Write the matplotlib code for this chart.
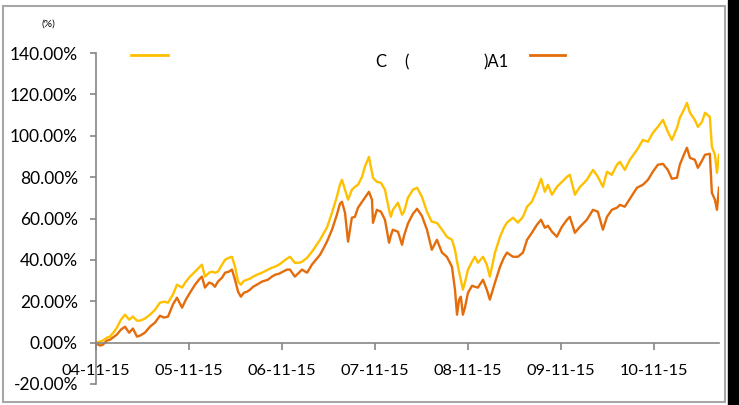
import pandas as pd
import matplotlib.pyplot as plt
from matplotlib.lines import Line2D
from matplotlib.patches import Rectangle
from matplotlib.ticker import FuncFormatter

# days after 2004-11-15
days = [0, 16, 27, 43, 55, 71, 82, 98, 114, 130, 145, 161, 173, 192, 212, 232,
        251, 267, 283, 302, 318, 338, 353, 369, 389, 404, 416, 428, 444, 456,
        467, 479, 495, 507, 522, 534, 546, 558, 569, 581, 593, 605, 617, 632,
        652, 675, 691, 703, 719, 734, 750, 762, 781, 797, 809, 829, 848, 864,
        880, 895, 907, 927, 946, 958, 966, 978, 990, 1005, 1017, 1029, 1045,
        1056, 1072, 1084, 1088, 1103, 1119, 1135, 1151, 1158, 1166, 1186, 1202,
        1210, 1225, 1245, 1261, 1280, 1300, 1319, 1339, 1359, 1378, 1398, 1410,
        1418, 1426, 1433, 1441, 1449, 1461, 1477, 1488, 1500, 1520, 1535, 1547,
        1567, 1587, 1602, 1614, 1638, 1657, 1677, 1693, 1712, 1732, 1748, 1763,
        1775, 1791, 1810, 1830, 1850, 1861, 1881, 1901, 1928, 1952, 1971, 1991,
        2007, 2026, 2046, 2058, 2077, 2097, 2125, 2148, 2168, 2187, 2207, 2227,
        2246, 2262, 2282, 2293, 2309, 2321, 2333, 2352, 2364, 2380, 2392, 2411,
        2419, 2431, 2439, 2447]

# yellow series (%)
series_a = [0.0, 0.5, 1.0, 2.4, 2.9, 5.3, 7.2, 11.1, 13.5, 11.1, 12.6, 10.6,
            10.6, 11.6, 13.5, 15.9, 19.3, 19.8, 19.3, 23.2, 28.0, 26.6, 29.5,
            31.9, 34.3, 36.2, 37.7, 31.9, 33.8, 34.3, 33.8, 34.3, 37.7, 40.1,
            41.0, 41.5, 36.7, 29.5, 28.0, 29.9, 30.4, 30.9, 31.9, 32.8, 33.8,
            35.3, 36.2, 36.7, 37.7, 39.1, 40.6, 41.5, 38.6, 38.6, 39.1, 41.0,
            43.9, 46.8, 49.7, 53.1, 55.5, 62.8, 70.5, 76.3, 78.7, 73.9, 69.1,
            73.9, 75.3, 76.3, 80.2, 85.0, 89.8, 82.1, 79.7, 77.7, 77.3, 73.9,
            64.2, 60.8, 64.2, 67.6, 61.8, 63.3, 70.0, 73.9, 74.9, 70.5, 63.3,
            58.4, 57.9, 54.6, 51.2, 49.7, 44.9, 39.1, 34.3, 30.4, 25.6, 29.0,
            35.3, 39.1, 41.5, 38.6, 41.5, 37.7, 31.9, 43.5, 51.2, 55.5, 58.0,
            60.4, 58.0, 60.8, 65.7, 68.1, 73.9, 79.2, 72.9, 76.3, 71.5, 75.3,
            77.7, 80.2, 81.1, 71.5, 75.3, 78.7, 83.5, 80.2, 75.3, 82.6, 81.1,
            86.0, 87.4, 83.5, 88.4, 93.2, 98.0, 97.1, 101.4, 104.3, 107.7,
            101.9, 98.0, 103.8, 108.7, 112.5, 115.9, 111.1, 107.7, 104.3, 106.7,
            111.1, 109.1, 94.7, 90.8, 82.1, 90.8]

# orange series (%)
series_b = [-0.5, -1.4, -1.0, 1.0, 1.4, 2.9, 3.9, 6.3, 7.7, 4.8, 6.8, 2.9,
            3.4, 4.8, 7.7, 9.7, 13.0, 12.1, 12.6, 18.4, 21.7, 16.9, 20.8,
            24.1, 28.0, 30.4, 31.9, 26.6, 29.0, 28.5, 27.0, 29.5, 31.4, 33.8,
            34.3, 35.3, 30.4, 24.6, 22.2, 24.1, 24.6, 25.6, 27.0, 28.0, 29.5,
            30.4, 31.9, 32.8, 33.3, 34.3, 35.3, 35.3, 31.9, 33.8, 35.3, 33.8,
            37.7, 40.1, 42.5, 45.9, 48.8, 54.6, 61.8, 67.1, 68.1, 62.8, 48.8,
            60.4, 60.8, 65.2, 68.1, 70.0, 72.9, 69.1, 57.9, 64.2, 63.3, 59.4,
            48.3, 51.7, 54.6, 53.6, 47.3, 51.7, 57.5, 62.3, 64.7, 61.3, 54.6,
            44.9, 49.7, 43.5, 41.5, 36.7, 25.6, 13.5, 20.8, 22.2, 13.5, 16.9,
            24.1, 27.5, 27.0, 26.6, 30.4, 25.6, 20.8, 29.0, 36.7, 41.0, 43.5,
            41.5, 41.5, 43.5, 49.7, 53.1, 57.0, 59.4, 55.5, 56.5, 53.6, 51.2,
            56.0, 59.4, 60.8, 53.1, 56.0, 59.4, 64.2, 63.3, 54.6, 60.8, 64.2,
            65.2, 66.6, 65.7, 69.5, 74.9, 76.3, 78.7, 82.6, 86.0, 86.4, 83.5,
            79.2, 79.7, 86.0, 90.8, 94.2, 89.3, 88.4, 84.5, 87.9, 90.8, 91.3,
            72.4, 69.1, 64.2, 74.9]

start = pd.Timestamp("2004-11-15")
tick_labels = ["04-11-15", "05-11-15", "06-11-15", "07-11-15",
               "08-11-15", "09-11-15", "10-11-15"]
tick_dates = pd.to_datetime(["2004-11-15", "2005-11-15", "2006-11-15", "2007-11-15",
                             "2008-11-15", "2009-11-15", "2010-11-15"])
y_ticks = [-20, 0, 20, 40, 60, 80, 100, 120, 140]

dates = start + pd.to_timedelta(days, unit="D")

plt.rcParams["font.family"] = ["Lato", "DejaVu Sans"]
grey = "#868686"

fig = plt.figure(figsize=(7.39, 4.05), dpi=100)
ax = fig.add_axes([96 / 739, 1 - 384 / 405, (719 - 96) / 739, (384 - 53) / 405])

ax.plot(dates, series_a, color="#FFC000", lw=1.7)
ax.plot(dates, series_b, color="#E46C0A", lw=1.7)

ax.set_xlim(start, start + pd.Timedelta(days=2447))
ax.set_ylim(-20, 140)
ax.set_yticks(y_ticks)
ax.yaxis.set_major_formatter(FuncFormatter(lambda v, p: f"{v:.2f}%"))
ax.set_xticks(tick_dates)
ax.set_xticklabels(tick_labels)

ax.spines["top"].set_visible(False)
ax.spines["right"].set_visible(False)
ax.spines["left"].set_color(grey)
ax.spines["bottom"].set_color(grey)
ax.spines["left"].set_linewidth(1.2)
ax.spines["bottom"].set_linewidth(1.2)
ax.spines["bottom"].set_position(("data", 0))
ax.tick_params(axis="y", colors=grey, labelcolor="black", labelsize=12.5,
               length=4, width=1.2, pad=9)
ax.tick_params(axis="x", colors=grey, labelcolor="black", labelsize=11.8,
               length=5, width=1.2, pad=10.5)

# legend drawn by hand, the text labels are mostly blank in the original
fig.add_artist(Line2D([131 / 739, 168 / 739], [1 - 55 / 405] * 2,
                      color="#FFC000", lw=2))
fig.add_artist(Line2D([530 / 739, 565 / 739], [1 - 55 / 405] * 2,
                      color="#E46C0A", lw=2))
fig.text(375 / 739, 1 - 62 / 405, "C", fontsize=12, va="center")
fig.text(404 / 739, 1 - 62 / 405, "(", fontsize=12, va="center")
fig.text(483 / 739, 1 - 62 / 405, ")A1", fontsize=12, va="center")
fig.text(48 / 739, 1 - 24 / 405, "(%)", fontsize=7.5, ha="center", va="center")

# outer frame and dark strip on the right
fig.add_artist(Rectangle((3 / 739, 1 - 402 / 405), (725 - 3) / 739, (402 - 6) / 405,
                         fill=False, edgecolor="#a6a6a6", lw=1.5))
fig.add_artist(Rectangle((728 / 739, 0), 11 / 739, 1, color="black"))

fig.savefig("out.png", dpi=100)
